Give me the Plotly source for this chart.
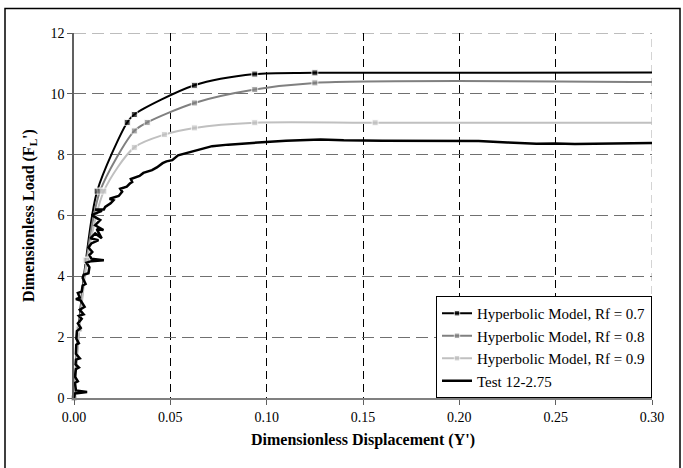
import plotly.graph_objects as go

# ---------------- data ----------------
rf07_x = [0.0, 0.0024, 0.0062, 0.0120, 0.0276, 0.0313, 0.0625, 0.0938, 0.1250, 0.30]
rf07_y = [0.0, 2.27, 4.53, 6.80, 9.06, 9.32, 10.28, 10.65, 10.69, 10.70]

rf08_x = [0.0, 0.0026, 0.0065, 0.0135, 0.0313, 0.0380, 0.0625, 0.0938, 0.1250, 0.30]
rf08_y = [0.0, 2.27, 4.53, 6.80, 8.78, 9.06, 9.70, 10.14, 10.36, 10.39]

rf09_x = [0.0, 0.0028, 0.0068, 0.0155, 0.0313, 0.0469, 0.0625, 0.0938, 0.1563, 0.30]
rf09_y = [0.0, 2.27, 4.53, 6.80, 8.24, 8.66, 8.88, 9.05, 9.05, 9.05]

test_x = [0.0, 0.0005, 0.0068, 0.0010, 0.0005, 0.0020, 0.0005, 0.0010, 0.0025, 0.0008,
          0.0010, 0.0030, 0.0010, 0.0012, 0.0025, 0.0012, 0.0015, 0.0035, 0.0020, 0.0040,
          0.0025, 0.0050, 0.0030, 0.0055, 0.0035, 0.0010, 0.0030, 0.0020, 0.0040, 0.0045,
          0.0060, 0.0045, 0.0050, 0.0075, 0.0080, 0.0065, 0.0090, 0.0155, 0.0090, 0.0080,
          0.0095, 0.0075, 0.0090, 0.0127, 0.0085, 0.0110, 0.0144, 0.0118, 0.0153, 0.0110,
          0.0136, 0.0092, 0.0125, 0.0145, 0.0110, 0.0155, 0.0162, 0.0190, 0.0205, 0.0185,
          0.0232, 0.0250, 0.0240, 0.0274, 0.0290, 0.0302, 0.0295, 0.0340, 0.0360, 0.0405,
          0.0430, 0.0460, 0.0480, 0.0510, 0.0540, 0.0580, 0.0613, 0.0670, 0.0717, 0.0800,
          0.0900, 0.1000, 0.1100, 0.1280, 0.1400, 0.1600, 0.1800, 0.2000, 0.2100, 0.2250,
          0.2400, 0.2500, 0.2600, 0.2800, 0.3000]
test_y = [0.0, 0.15, 0.20, 0.25, 0.50, 0.55, 0.70, 0.95, 1.00, 1.10,
          1.26, 1.30, 1.45, 1.75, 1.80, 1.95, 2.20, 2.30, 2.45, 2.60,
          2.70, 2.75, 2.90, 3.00, 3.20, 3.25, 3.30, 3.45, 3.50, 3.70,
          3.75, 3.95, 4.05, 4.10, 4.30, 4.45, 4.50, 4.53, 4.58, 4.70,
          4.80, 4.95, 5.08, 5.19, 5.25, 5.41, 5.25, 5.55, 5.52, 5.68,
          5.85, 6.01, 6.10, 6.15, 6.20, 6.20, 6.28, 6.40, 6.50, 6.55,
          6.64, 6.78, 6.88, 6.95, 7.05, 7.10, 7.20, 7.30, 7.40, 7.49,
          7.58, 7.72, 7.78, 7.82, 7.98, 8.05, 8.12, 8.20, 8.28, 8.33,
          8.38, 8.42, 8.46, 8.50, 8.47, 8.46, 8.45, 8.46, 8.45, 8.40,
          8.36, 8.37, 8.35, 8.37, 8.38]

x_ticks = [0.00, 0.05, 0.10, 0.15, 0.20, 0.25, 0.30]
y_ticks = [0, 2, 4, 6, 8, 10, 12]

names = ["Hyperbolic Model, Rf = 0.7", "Hyperbolic Model, Rf = 0.8",
         "Hyperbolic Model, Rf = 0.9", "Test 12-2.75"]

FONT = "Liberation Serif"

fig = go.Figure()

for xs, ys, col, nm in [(rf07_x, rf07_y, "#000000", names[0]),
                        (rf08_x, rf08_y, "#808080", names[1]),
                        (rf09_x, rf09_y, "#c0c0c0", names[2])]:
    sizes = [6] * (len(xs) - 1) + [0]
    fig.add_trace(go.Scatter(
        x=xs, y=ys, mode="lines+markers", name=nm,
        line=dict(color=col, width=2, shape="spline", smoothing=0.8),
        marker=dict(symbol="square", size=sizes, color=col),
        cliponaxis=False,
    ))

fig.add_trace(go.Scatter(
    x=test_x, y=test_y, mode="lines", name=names[3],
    line=dict(color="#000000", width=2.5),
))

x_min, x_max = x_ticks[0], x_ticks[-1]
y_min, y_max = y_ticks[0], y_ticks[-1]

# edge grid lines (top and right) drawn lighter, as in the reference
fig.add_shape(type="line", xref="x", yref="y", x0=x_min, x1=x_max, y0=y_max, y1=y_max,
              line=dict(color="#a8a8a8", width=1.5, dash="12px,6px"), layer="below")
fig.add_shape(type="line", xref="x", yref="y", x0=x_max, x1=x_max, y0=y_min, y1=y_max,
              line=dict(color="#a8a8a8", width=1, dash="8px,5px"), layer="below")

# outer border (chart frame)
L, R, T, B = 74, 652, 33, 398
def px_x(p):
    return (p - L) / (R - L)
def px_y(p):
    return (B - p) / (B - T)

fig.add_shape(type="rect", xref="paper", yref="paper",
              x0=px_x(5), x1=px_x(680), y0=px_y(475), y1=px_y(8.5),
              line=dict(color="#000000", width=1.5), fillcolor="rgba(0,0,0,0)",
              layer="below")

fig.update_layout(
    width=683, height=468,
    margin=dict(l=L, r=683 - R, t=T, b=468 - B),
    paper_bgcolor="white", plot_bgcolor="white",
    font=dict(family=FONT, size=14, color="#000000"),
    showlegend=True,
    legend=dict(
        x=1.0, y=0.0, xanchor="right", yanchor="bottom",
        bgcolor="white", bordercolor="#000000", borderwidth=1,
        font=dict(family=FONT, size=15, color="#000000"),
        tracegroupgap=0, itemwidth=30,
    ),
    xaxis=dict(
        range=[x_min, x_max], tickvals=x_ticks, tickformat=".2f",
        showgrid=True, gridcolor="#000000", griddash="8px,5px", gridwidth=1,
        showline=True, linecolor="#808080", linewidth=2,
        ticks="outside", ticklen=5, tickcolor="#606060", tickwidth=1,
        zeroline=False,
        tickfont=dict(family=FONT, size=14),
        title=dict(text="<b>Dimensionless Displacement (Y')</b>",
                   font=dict(family=FONT, size=16), standoff=10),
    ),
    yaxis=dict(
        range=[y_min, y_max], tickvals=y_ticks,
        showgrid=True, gridcolor="#707070", griddash="12px,6px", gridwidth=1,
        showline=True, linecolor="#606060", linewidth=1.5,
        ticks="outside", ticklen=5, tickcolor="#606060", tickwidth=1,
        zeroline=False,
        tickfont=dict(family=FONT, size=14),
        title=dict(text="<b>Dimensionless Load (F<sub>L</sub>')</b>",
                   font=dict(family=FONT, size=16), standoff=12),
    ),
)

fig.write_html("out.html")
